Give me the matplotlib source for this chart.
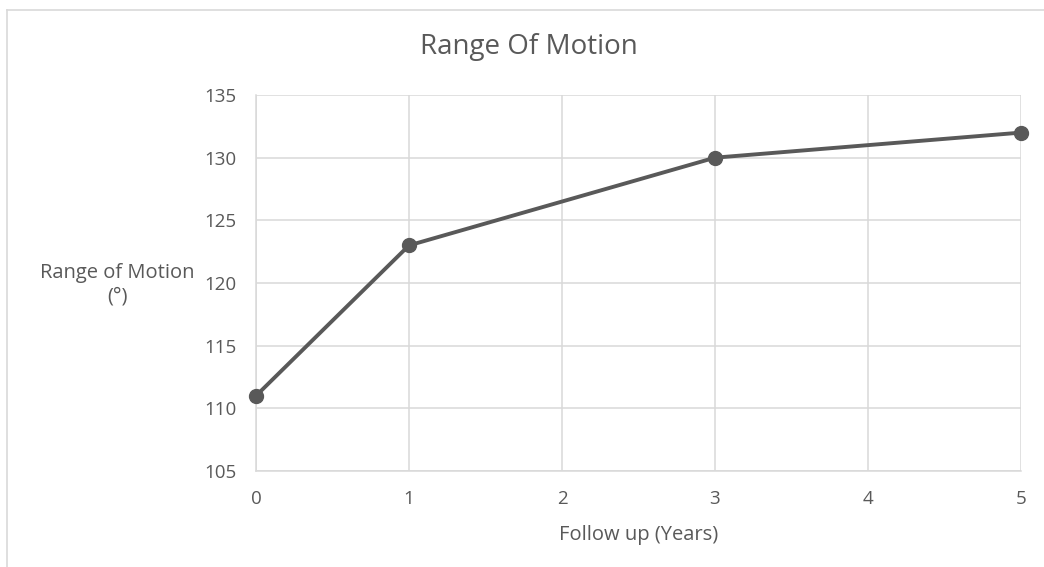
import matplotlib
matplotlib.use("Agg")
import matplotlib.pyplot as plt
from matplotlib.lines import Line2D

years = [0, 1, 3, 5]
rom = [111, 123, 130, 132]
x_ticks = [0, 1, 2, 3, 4, 5]
y_ticks = [105, 110, 115, 120, 125, 130, 135]

plt.rcParams['font.family'] = ['Open Sans', 'DejaVu Sans']
txt = '#595959'
grid = '#d9d9d9'

W, H = 1044, 567
fig = plt.figure(figsize=(W / 100, H / 100), dpi=100)
ax = fig.add_axes([256 / W, 1 - 471 / H, (1021 - 256) / W, (471 - 95) / H])

ax.plot(years, rom, color='#595959', lw=2.8, marker='o', ms=10, zorder=3, clip_on=False)
ax.set_xlim(0, 5)
ax.set_ylim(105, 135)
ax.set_xticks(x_ticks)
ax.set_yticks(y_ticks)
ax.grid(True, color=grid, lw=1.1)
for s in ['top', 'right']:
    ax.spines[s].set_visible(False)
for s in ['left', 'bottom']:
    ax.spines[s].set_color(grid)
    ax.spines[s].set_linewidth(1.1)
ax.tick_params(length=0, labelsize=13.5, colors=txt, pad=14)
ax.tick_params(axis='y', pad=14)

ax.set_xlabel('Follow up (Years)', fontsize=14.5, color=txt, labelpad=12)
fig.text(117 / W, 1 - 285 / H, 'Range of Motion\n(°)', ha='center', va='center',
         fontsize=14.5, color=txt, linespacing=1.25)
fig.text(529 / W, 1 - 47 / H, 'Range Of Motion', ha='center', va='center',
         fontsize=20, color=txt)

fig.add_artist(Line2D([7 / W, 1], [1 - 9.5 / H, 1 - 9.5 / H], color='#d9d9d9', lw=1.2,
                      transform=fig.transFigure))
fig.add_artist(Line2D([7 / W, 7 / W], [0, 1 - 9.5 / H], color='#d9d9d9', lw=1.2,
                      transform=fig.transFigure))

fig.savefig('out.png', dpi=100, facecolor='white')
